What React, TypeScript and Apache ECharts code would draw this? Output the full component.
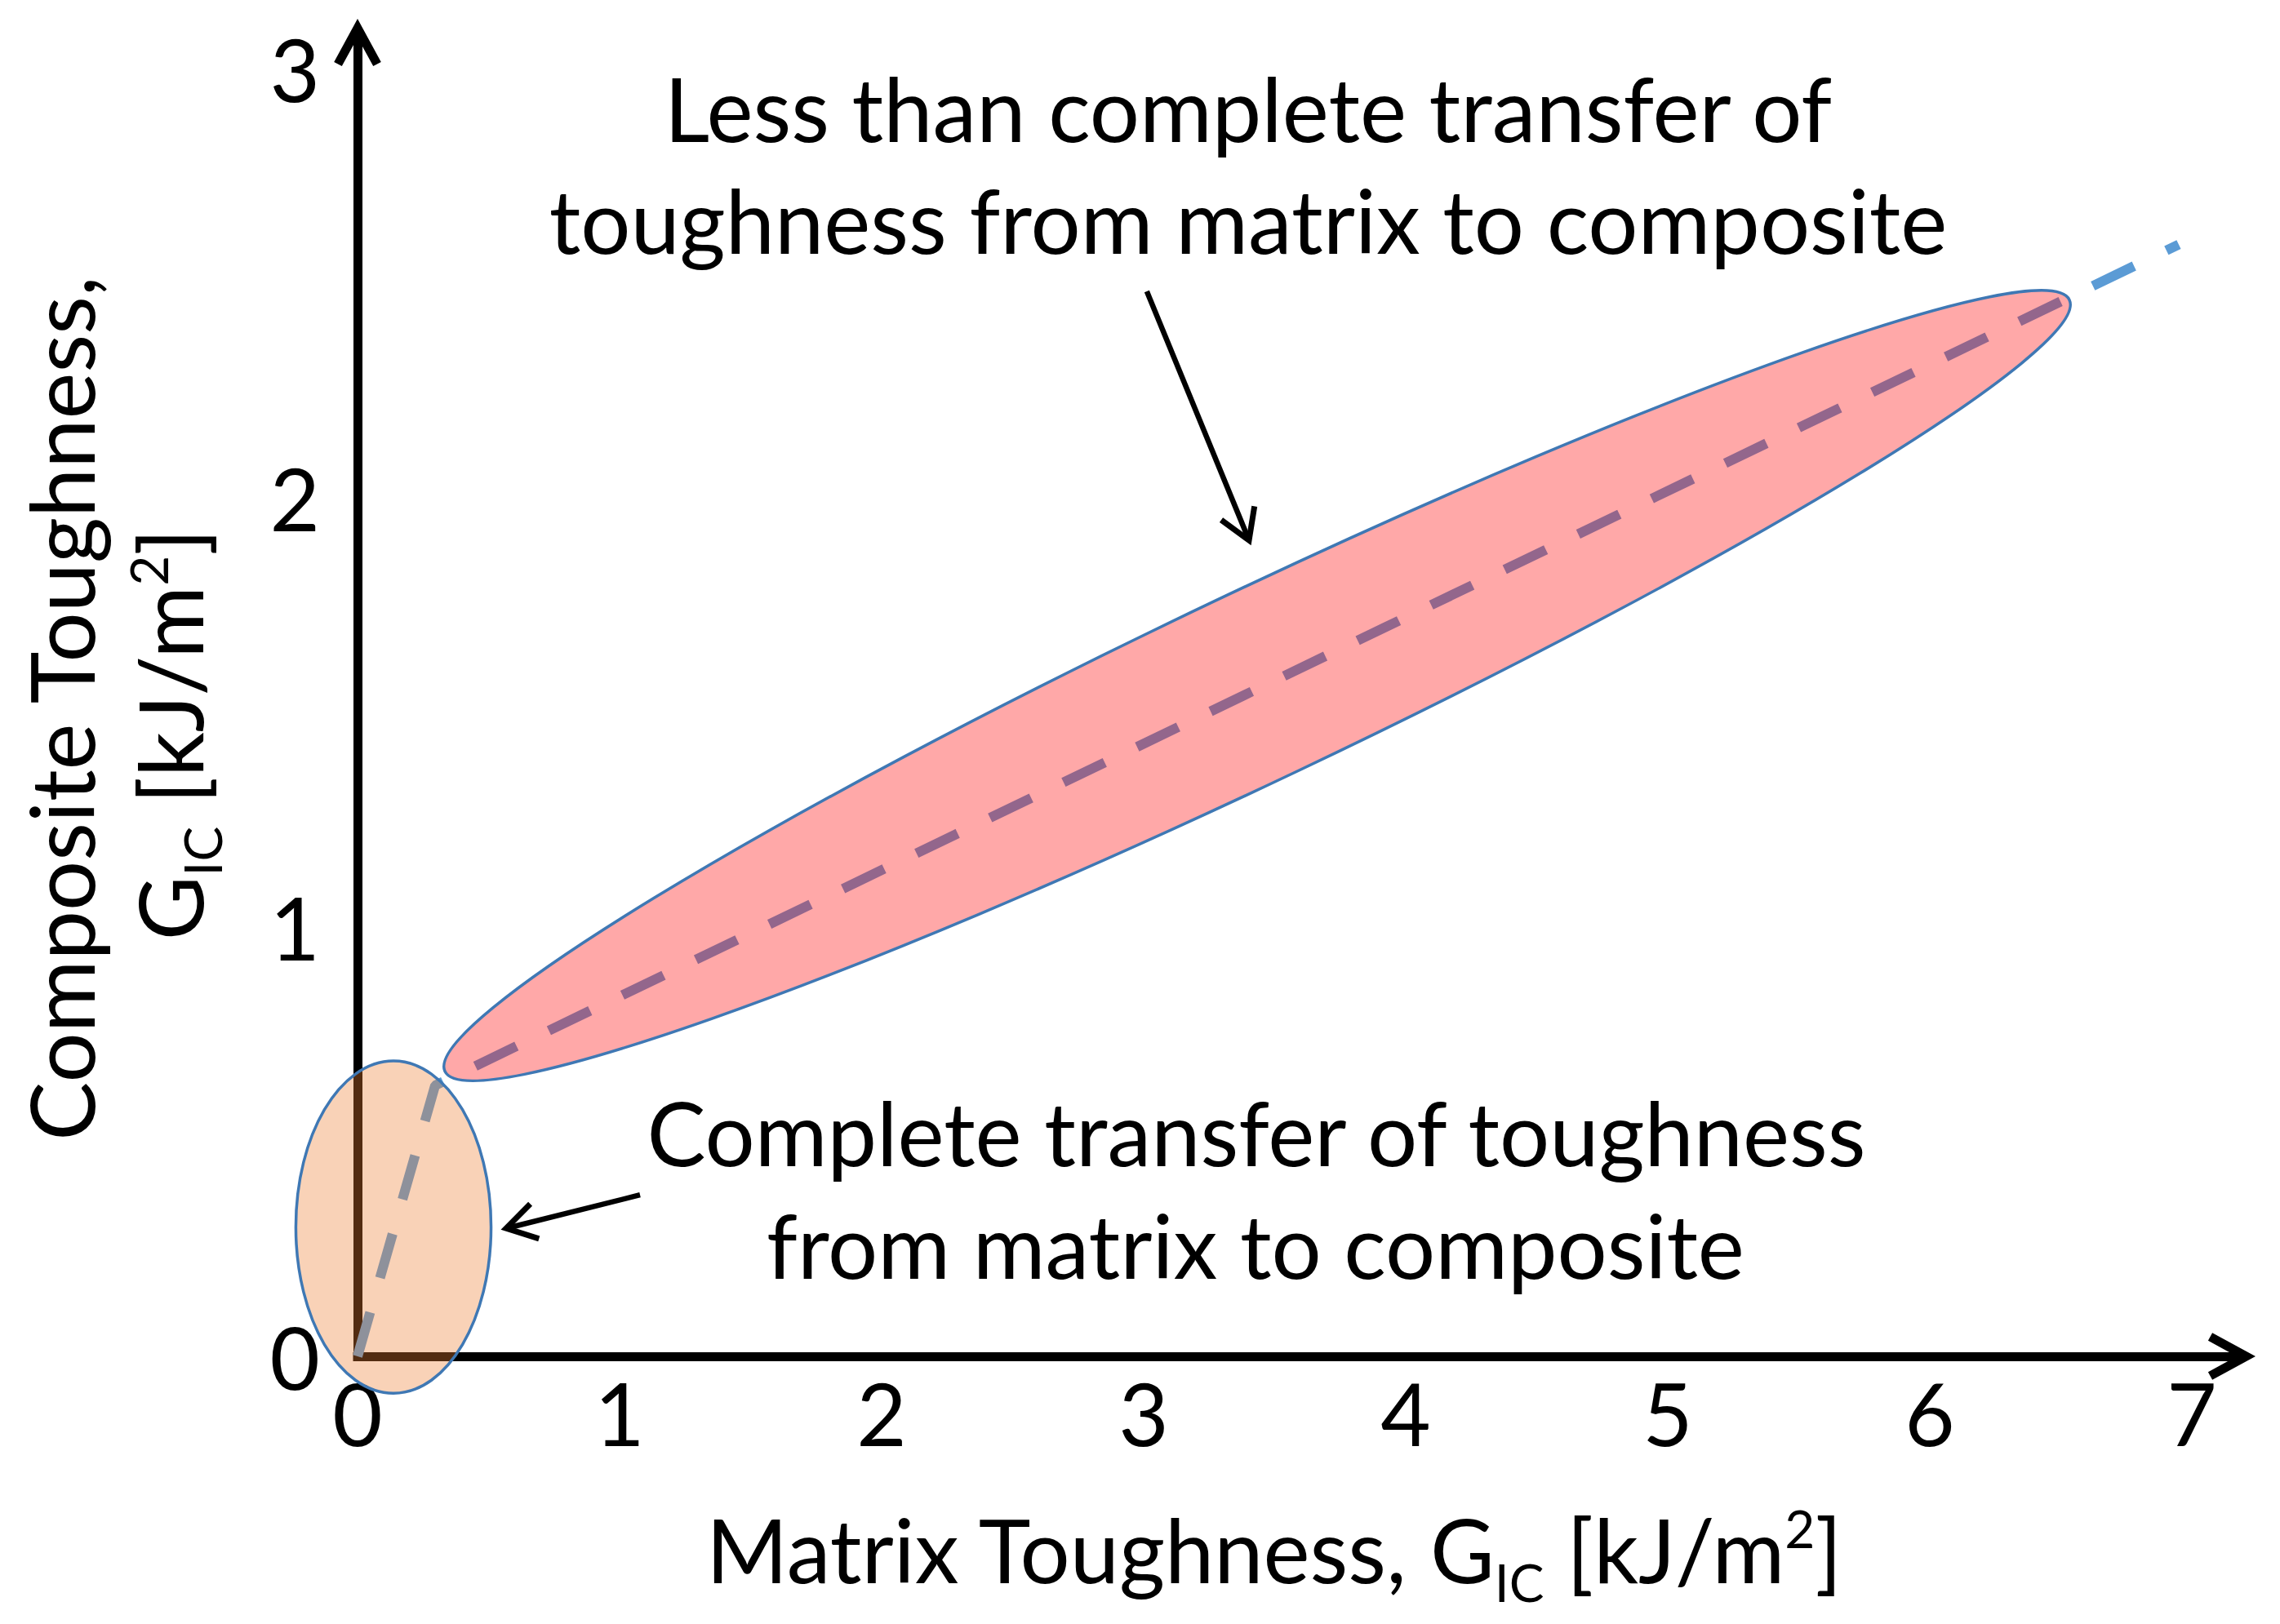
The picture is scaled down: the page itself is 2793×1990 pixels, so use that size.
import React, { useEffect, useRef } from 'react';
import * as echarts from 'echarts';

// ---- data ----
const xTicks = [0, 1, 2, 3, 4, 5, 6, 7];
const yTicks = [0, 1, 2, 3];

// dashed trend line (matrix toughness -> composite toughness)
const trendX = [0, 0.296, 6.95];
const trendY = [0, 0.631, 2.59];

// shaded regions as ellipses: ends of major and minor axes, in data units
const regionNames = ['Complete transfer', 'Less than complete transfer'];
const regionMajorFrom = [[0.137, -0.086], [0.333, 0.663]];
const regionMajorTo = [[0.137, 0.688], [6.533, 2.462]];
const regionMinorFrom = [[-0.234, 0.302], [3.278, 1.762]];
const regionMinorTo = [[0.511, 0.302], [3.588, 1.364]];

// callout arrows, in data units
const calloutFrom = [[3.012, 2.481], [1.078, 0.376]];
const calloutTo = [[3.402, 1.901], [0.567, 0.298]];

const noteTop = ['Less than complete transfer of', 'toughness from matrix to composite'];
const noteBottom = ['Complete transfer of toughness', 'from matrix to composite'];

// ---- styles ----
const FONT = 'Lato';
const FS = 108;
const TICK_FS = 106;
const regionFills = ['rgba(237,125,49,0.35)', 'rgba(255,0,0,0.34)'];
const regionStroke = '#3F78B4';

// chevron pointing up; phantom point centres the bbox on the V point
const AXIS_ARROW =
  'path://M28.8,0 L57.6,52.9 L48,58.1 L28.8,23 L9.6,58.1 L0,52.9 Z M28.8,-35.1 L28.81,-35.1 L28.8,-35.09 Z';
const CALLOUT_ARROW =
  'path://M25,0 L50,40.9 L44,44.5 L25,13.4 L6,44.5 L0,40.9 Z M25,-31.1 L25.01,-31.1 L25,-31.09 Z';

const rich = {
  m: { fontSize: FS, fontFamily: FONT, fill: '#000', verticalAlign: 'middle' },
  s: { fontSize: 64, fontFamily: FONT, fill: '#000', verticalAlign: 'middle', padding: [80, 0, 0, 0] },
  p: { fontSize: 64, fontFamily: FONT, fill: '#000', verticalAlign: 'middle', padding: [0, 0, 52, 0] },
};
const gicLabel = '{m|G}{s|IC}{m| [kJ/m}{p|2}{m|]}';

function plainText(text: string, x: number, y: number, rotation = 0) {
  return {
    type: 'text',
    x,
    y,
    rotation,
    silent: true,
    style: {
      text,
      fontSize: FS,
      fontFamily: FONT,
      fill: '#000',
      align: 'center',
      verticalAlign: 'middle',
    },
  };
}

function richText(text: string, x: number, y: number, rotation = 0) {
  return {
    type: 'text',
    x,
    y,
    rotation,
    silent: true,
    style: {
      text,
      rich,
      fontSize: FS,
      fontFamily: FONT,
      fill: '#000',
      align: 'center',
      verticalAlign: 'middle',
    },
  };
}

export default function App() {
  const ref = useRef<HTMLDivElement>(null);

  useEffect(() => {
    if (!ref.current) return;
    const chart = echarts.init(ref.current, undefined, { renderer: 'svg' });

    const tickFmt = (v: number) => (Number.isInteger(v) ? String(v) : '');

    const option: any = {
      animation: false,
      backgroundColor: '#ffffff',
      grid: { left: 438, top: 34.5, width: 2308, height: 1627.5, containLabel: false },
      xAxis: {
        type: 'value',
        min: xTicks[0],
        max: 7.19,
        interval: 1,
        axisLine: {
          show: true,
          lineStyle: { color: '#000', width: 11, cap: 'square' },
          symbol: ['none', AXIS_ARROW],
          symbolSize: [57.6, 93.2],
          symbolOffset: [0, 5.5],
        },
        axisTick: { show: false },
        splitLine: { show: false },
        axisLabel: {
          fontSize: TICK_FS,
          fontFamily: FONT,
          color: '#000',
          margin: 16,
          showMaxLabel: false,
          formatter: tickFmt,
        },
      },
      yAxis: {
        type: 'value',
        min: yTicks[0],
        max: 3.094,
        interval: 1,
        axisLine: {
          show: true,
          lineStyle: { color: '#000', width: 11, cap: 'butt' },
          symbol: ['none', AXIS_ARROW],
          symbolSize: [57.6, 93.2],
        },
        axisTick: { show: false },
        splitLine: { show: false },
        axisLabel: {
          fontSize: TICK_FS,
          fontFamily: FONT,
          color: '#000',
          margin: 46,
          padding: [0, 0, 20, 0],
          showMaxLabel: false,
          formatter: tickFmt,
        },
      },
      series: [
        {
          type: 'line',
          name: 'trend',
          z: 2,
          silent: true,
          symbol: 'none',
          showSymbol: false,
          data: trendX.map((x, i) => [x, trendY[i]]),
          lineStyle: { color: '#5B9BD5', width: 12, type: [56, 44], cap: 'butt' },
          markLine: {
            silent: true,
            animation: false,
            symbol: ['none', CALLOUT_ARROW],
            symbolSize: [50, 75.6],
            label: { show: false },
            emphasis: { disabled: true },
            lineStyle: { color: '#000', width: 6.5, type: 'solid' },
            data: calloutFrom.map((f, i) => [{ coord: f }, { coord: calloutTo[i] }]),
          },
        },
        {
          type: 'custom',
          name: 'regions',
          z: 3,
          silent: true,
          clip: false,
          encode: { x: [0, 2, 4, 6], y: [1, 3, 5, 7] },
          data: regionNames.map((_, i) => [
            ...regionMajorFrom[i],
            ...regionMajorTo[i],
            ...regionMinorFrom[i],
            ...regionMinorTo[i],
          ]),
          renderItem: (params: any, api: any) => {
            const a = api.coord([api.value(0), api.value(1)]);
            const b = api.coord([api.value(2), api.value(3)]);
            const c = api.coord([api.value(4), api.value(5)]);
            const d = api.coord([api.value(6), api.value(7)]);
            const cx = (a[0] + b[0]) / 2;
            const cy = (a[1] + b[1]) / 2;
            const rx = Math.hypot(b[0] - a[0], b[1] - a[1]) / 2;
            const ry = Math.hypot(d[0] - c[0], d[1] - c[1]) / 2;
            const rot = -Math.atan2(b[1] - a[1], b[0] - a[0]);
            return {
              type: 'ellipse',
              x: cx,
              y: cy,
              rotation: rot,
              shape: { cx: 0, cy: 0, rx, ry },
              style: { fill: regionFills[params.dataIndex], stroke: regionStroke, lineWidth: 3.5 },
            };
          },
        },
      ],
      graphic: [
        plainText(noteTop[0], 1529, 132),
        plainText(noteTop[1], 1529, 269),
        plainText(noteBottom[0], 1539, 1387),
        plainText(noteBottom[1], 1538, 1525),
        plainText('Composite Toughness,', 74, 868, Math.PI / 2),
        richText(gicLabel, 207, 900, Math.PI / 2),
        richText('{m|Matrix Toughness, }' + gicLabel, 1560, 1898),
      ],
    };

    chart.setOption(option);
    return () => chart.dispose();
  }, []);

  return (
    <div
      ref={ref}
      style={{ position: 'absolute', left: 0, top: 0, width: 2793, height: 1990, background: '#fff' }}
    />
  );
}
